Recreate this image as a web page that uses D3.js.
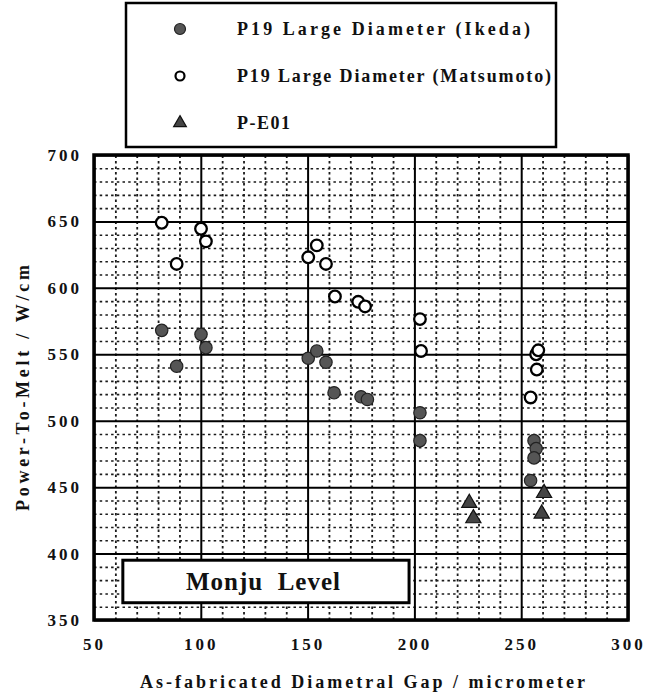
<!DOCTYPE html>
<html>
<head>
<meta charset="utf-8">
<script src="https://cdn.jsdelivr.net/npm/d3@7.9.0/dist/d3.min.js"></script>
<style>
  html, body { margin: 0; padding: 0; background: #fff; }
  svg { display: block; }
</style>
</head>
<body>
<svg id="chart"></svg>
<script>
// Power-to-melt vs as-fabricated diametral gap

// P19 Large Diameter (Ikeda) - filled circles
const ikedaGap   = [81.7, 88.7, 100.1, 102.4, 150.3, 154.3, 158.6, 162.4, 175, 178, 202.6, 202.6, 256, 257, 256, 254.4];
const ikedaPower = [568, 541, 565, 555, 547, 552.5, 544, 521, 518, 516, 506, 485, 485, 479, 472, 455];

// P19 Large Diameter (Matsumoto) - open circles
const matsuGap   = [81.7, 88.7, 100.1, 102.4, 150.3, 154.3, 158.6, 162.8, 173.7, 176.9, 202.6, 203.1, 257, 258, 257.3, 254.4];
const matsuPower = [649, 618, 644.5, 635, 623, 632, 618, 593.5, 589.5, 586, 576.5, 552.5, 550, 553, 538.5, 517.5];

// P-E01 - triangles
const pe01Gap   = [225.7, 227.6, 260.7, 259.6];
const pe01Power = [438, 426.5, 445.5, 430];

const xTicks = [50, 100, 150, 200, 250, 300];
const yTicks = [350, 400, 450, 500, 550, 600, 650, 700];
const xMinor = d3.range(60, 300, 10);
const yMinor = d3.range(360, 700, 10);

const legendLabels = ['P19 Large Diameter (Ikeda)', 'P19 Large Diameter (Matsumoto)', 'P-E01'];

const FONT = 'Liberation Serif';

const width = 646;
const height = 696;
const margin = { top: 155, right: 18, bottom: 76, left: 94 };

const svg = d3.select('#chart')
  .attr('width', width)
  .attr('height', height)
  .attr('viewBox', [0, 0, width, height]);

const xScale = d3.scaleLinear().domain([50, 300]).range([margin.left, width - margin.right]);
const yScale = d3.scaleLinear().domain([350, 700]).range([height - margin.bottom, margin.top]);

const plotW = xScale.range()[1] - xScale.range()[0];
const plotH = yScale.range()[0] - yScale.range()[1];

// bold serif text, stretched to a given width when asked
function label(sel, size, txt, fitWidth) {
  const t = sel.append('text')
    .attr('font-family', FONT)
    .attr('font-weight', 'bold')
    .attr('font-size', size)
    .attr('fill', '#111')
    .text(txt);
  if (fitWidth) t.attr('textLength', fitWidth).attr('lengthAdjust', 'spacing');
  return t;
}

// minor dotted grid (every 10)
const minor = svg.append('g').attr('class', 'minor-grid');
minor.append('g')
  .attr('transform', `translate(0, ${yScale.range()[0]})`)
  .call(d3.axisBottom(xScale).tickValues(xMinor.filter(v => v % 50 !== 0)).tickFormat('').tickSize(-plotH))
  .call(g => g.select('.domain').remove())
  .call(g => g.selectAll('line').attr('stroke', '#1a1a1a').attr('stroke-width', 1.8).attr('stroke-dasharray', '2.5,3'));
minor.append('g')
  .attr('transform', `translate(${xScale.range()[0]}, 0)`)
  .call(d3.axisLeft(yScale).tickValues(yMinor.filter(v => v % 50 !== 0)).tickFormat('').tickSize(-plotW))
  .call(g => g.select('.domain').remove())
  .call(g => g.selectAll('line').attr('stroke', '#1a1a1a').attr('stroke-width', 1.6).attr('stroke-dasharray', '2.5,3.2'));

// major solid grid (every 50)
const major = svg.append('g').attr('class', 'major-grid');
major.append('g')
  .attr('transform', `translate(0, ${yScale.range()[0]})`)
  .call(d3.axisBottom(xScale).tickValues(xTicks).tickFormat('').tickSize(-plotH))
  .call(g => g.select('.domain').remove())
  .call(g => g.selectAll('line').attr('stroke', '#000').attr('stroke-width', 2));
major.append('g')
  .attr('transform', `translate(${xScale.range()[0]}, 0)`)
  .call(d3.axisLeft(yScale).tickValues(yTicks).tickFormat('').tickSize(-plotW))
  .call(g => g.select('.domain').remove())
  .call(g => g.selectAll('line').attr('stroke', '#000').attr('stroke-width', 2));

// Monju level box
svg.append('rect')
  .attr('x', xScale(63.5)).attr('y', yScale(395))
  .attr('width', xScale(197.5) - xScale(63.5))
  .attr('height', yScale(363) - yScale(395))
  .attr('fill', '#fff').attr('stroke', '#000').attr('stroke-width', 3);
label(svg, 25, 'Monju\u00a0\u00a0Level', 154)
  .attr('x', 186).attr('y', yScale(379))
  .attr('dy', '0.35em');

// plot frame
svg.append('rect')
  .attr('x', margin.left).attr('y', margin.top)
  .attr('width', plotW).attr('height', plotH)
  .attr('fill', 'none').attr('stroke', '#000').attr('stroke-width', 3.5);

// axes tick labels
const xAxis = svg.append('g')
  .attr('transform', `translate(0, ${yScale.range()[0]})`)
  .call(d3.axisBottom(xScale).tickValues(xTicks).tickSize(0).tickPadding(18));
xAxis.select('.domain').remove();
xAxis.selectAll('text')
  .attr('font-size', 17).attr('letter-spacing', 3)
  .attr('font-family', FONT).attr('font-weight', 'bold').attr('fill', '#111');

const yAxis = svg.append('g')
  .attr('transform', `translate(${xScale.range()[0]}, 0)`)
  .call(d3.axisLeft(yScale).tickValues(yTicks).tickSize(0).tickPadding(12));
yAxis.select('.domain').remove();
yAxis.selectAll('text')
  .attr('font-size', 17).attr('letter-spacing', 3)
  .attr('font-family', FONT).attr('font-weight', 'bold').attr('fill', '#111');

// axis titles
label(svg, 18, 'As-fabricated Diametral Gap / micrometer', 445)
  .attr('x', 140).attr('y', 688);

label(svg, 18, 'Power-To-Melt / W/cm', 246)
  .attr('transform', 'translate(29, 511) rotate(-90)');

// data marks
const ikeda = ikedaGap.map((g, i) => ({ gap: g, power: ikedaPower[i] }));
const matsu = matsuGap.map((g, i) => ({ gap: g, power: matsuPower[i] }));
const pe01 = pe01Gap.map((g, i) => ({ gap: g, power: pe01Power[i] }));

const tri = d3.symbol().type(d3.symbolTriangle).size(100);

svg.append('g').selectAll('circle')
  .data(matsu)
  .join('circle')
  .attr('cx', d => xScale(d.gap))
  .attr('cy', d => yScale(d.power))
  .attr('r', 5.8)
  .attr('fill', '#fff')
  .attr('stroke', '#000')
  .attr('stroke-width', 2.3);

svg.append('g').selectAll('circle')
  .data(ikeda)
  .join('circle')
  .attr('cx', d => xScale(d.gap))
  .attr('cy', d => yScale(d.power))
  .attr('r', 6.2)
  .attr('fill', '#555')
  .attr('stroke', '#222')
  .attr('stroke-width', 1.2);

svg.append('g').selectAll('path')
  .data(pe01)
  .join('path')
  .attr('transform', d => `translate(${xScale(d.gap)}, ${yScale(d.power)})`)
  .attr('d', tri)
  .attr('fill', '#444')
  .attr('stroke', '#111')
  .attr('stroke-width', 1.2);

// legend
const legend = svg.append('g').attr('class', 'legend');
legend.append('rect')
  .attr('x', 126).attr('y', 3)
  .attr('width', 430).attr('height', 144)
  .attr('fill', '#fff').attr('stroke', '#000').attr('stroke-width', 2.5);

const legendY = [29, 76, 123];
const legendW = [293, 314, 53];
legendLabels.forEach((name, i) => {
  const y = legendY[i];
  if (i === 0) {
    legend.append('circle').attr('cx', 180).attr('cy', y).attr('r', 5.5)
      .attr('fill', '#555').attr('stroke', '#222').attr('stroke-width', 1.2);
  } else if (i === 1) {
    legend.append('circle').attr('cx', 180).attr('cy', y).attr('r', 4.5)
      .attr('fill', '#fff').attr('stroke', '#000').attr('stroke-width', 2.2);
  } else {
    legend.append('path').attr('transform', `translate(180, ${y})`)
      .attr('d', d3.symbol().type(d3.symbolTriangle).size(70))
      .attr('fill', '#444').attr('stroke', '#111').attr('stroke-width', 1.2);
  }
  label(legend, 18, name, legendW[i])
    .attr('x', 237).attr('y', y)
    .attr('dy', '0.35em');
});
</script>
</body>
</html>
